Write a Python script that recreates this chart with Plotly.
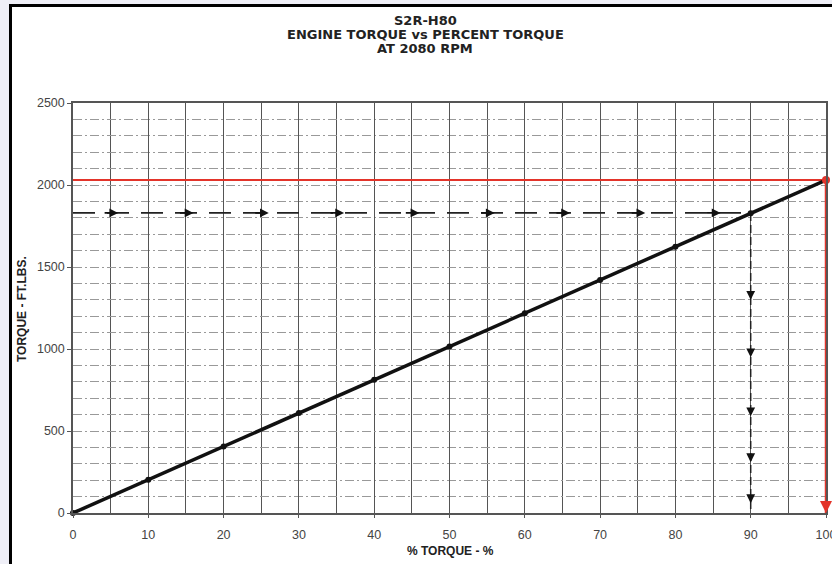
import plotly.graph_objects as go

# ---- data ----
percent = [0, 10, 20, 30, 40, 50, 60, 70, 80, 90, 100]
torque = [0, 203, 406, 609, 812, 1015, 1218, 1421, 1624, 1827, 2030]

max_pct = [0, 100, 100]
max_torque = [2030, 2030, 0]

read_pct = [0, 90, 90]
read_torque = [1830, 1830, 0]

h_arrow_x = [6, 16, 26, 36, 46, 56, 66, 76, 86]
v_arrow_y = [1300, 950, 590, 310, 60]

x_ticks = [0, 10, 20, 30, 40, 50, 60, 70, 80, 90, 100]
y_ticks = [0, 500, 1000, 1500, 2000, 2500]

title_lines = ["S2R-H80", "ENGINE TORQUE vs PERCENT TORQUE", "AT 2080 RPM"]
x_title = "% TORQUE - %"
y_title = "TORQUE - FT.LBS."

FONT = "Liberation Sans, Arial, sans-serif"
TITLE_FONT = "DejaVu Sans, Liberation Sans, sans-serif"
RED = "#e3342a"

fig = go.Figure()

# red max-torque guide lines
fig.add_trace(go.Scatter(x=max_pct[:2], y=max_torque[:2], mode="lines",
                         line=dict(color=RED, width=2), hoverinfo="skip",
                         showlegend=False, cliponaxis=False))
fig.add_trace(go.Scatter(x=max_pct[1:], y=max_torque[1:], mode="lines",
                         line=dict(color=RED, width=2.5), hoverinfo="skip",
                         showlegend=False, cliponaxis=False))

# dashed reading lines
fig.add_trace(go.Scatter(x=read_pct[:2], y=read_torque[:2], mode="lines",
                         line=dict(color="#222", width=1.6, dash="22px,12px"),
                         hoverinfo="skip", showlegend=False))
fig.add_trace(go.Scatter(x=read_pct[1:], y=read_torque[1:], mode="lines",
                         line=dict(color="#222", width=1.5, dash="8px,4px"),
                         hoverinfo="skip", showlegend=False))

# main torque line
fig.add_trace(go.Scatter(x=percent, y=torque, mode="lines+markers",
                         line=dict(color="#111", width=3.5),
                         marker=dict(color="#111", size=6),
                         showlegend=False, cliponaxis=False))

# red end dot
fig.add_trace(go.Scatter(x=[max_pct[1]], y=[max_torque[1]], mode="markers",
                         marker=dict(color=RED, size=8), showlegend=False,
                         cliponaxis=False, hoverinfo="skip"))

ann = []
for xa in h_arrow_x:
    ann.append(dict(x=xa, y=read_torque[0], ax=xa - 2, ay=read_torque[0],
                    xref="x", yref="y", axref="x", ayref="y", text="",
                    showarrow=True, arrowhead=2, arrowsize=1.1, arrowwidth=1.6,
                    arrowcolor="#111"))
for ya in v_arrow_y:
    ann.append(dict(x=read_pct[1], y=ya, ax=read_pct[1], ay=ya + 50,
                    xref="x", yref="y", axref="x", ayref="y", text="",
                    showarrow=True, arrowhead=2, arrowsize=1.1, arrowwidth=1.6,
                    arrowcolor="#111"))
ann.append(dict(x=max_pct[2], y=max_torque[2], ax=max_pct[2], ay=60,
                xref="x", yref="y", axref="x", ayref="y", text="",
                showarrow=True, arrowhead=2, arrowsize=1.2, arrowwidth=2,
                arrowcolor=RED))

# title lines
for i, t in enumerate(title_lines):
    py = 20 + 14 * i
    ann.append(dict(text="<b>%s</b>" % t, x=(425 - 73) / 753, y=(513 - py) / 410,
                    xref="paper", yref="paper", showarrow=False,
                    xanchor="center", yanchor="middle",
                    font=dict(family=TITLE_FONT, size=13, color="#222")))

ann.append(dict(text="<b>%s</b>" % x_title, x=(450 - 73) / 753, y=(513 - 551) / 410,
                xref="paper", yref="paper", showarrow=False,
                xanchor="center", yanchor="middle",
                font=dict(family=FONT, size=12, color="#222")))
ann.append(dict(text="<b>%s</b>" % y_title, x=(22 - 73) / 753, y=(513 - 309) / 410,
                xref="paper", yref="paper", showarrow=False, textangle=-90,
                xanchor="center", yanchor="middle",
                font=dict(family=FONT, size=12, color="#222")))

shapes = [
    # lavender margins outside the scanned frame
    dict(type="rect", xref="paper", yref="paper", x0=-73 / 753, x1=(9 - 73) / 753,
         y0=-51 / 410, y1=513 / 410, fillcolor="#efeff7", line=dict(width=0), layer="below"),
    dict(type="rect", xref="paper", yref="paper", x0=-73 / 753, x1=759 / 753,
         y0=(513 - 4) / 410, y1=513 / 410, fillcolor="#efeff7", line=dict(width=0), layer="below"),
    # black scan frame
    dict(type="line", xref="paper", yref="paper", x0=(10.5 - 73) / 753, x1=(10.5 - 73) / 753,
         y0=-51 / 410, y1=(513 - 4.5) / 410, line=dict(color="#000", width=3)),
    dict(type="line", xref="paper", yref="paper", x0=(9 - 73) / 753, x1=759 / 753,
         y0=(513 - 5.5) / 410, y1=(513 - 5.5) / 410, line=dict(color="#000", width=3)),
]

fig.update_layout(
    width=832, height=564,
    margin=dict(l=73, r=6, t=103, b=51, autoexpand=False),
    paper_bgcolor="white", plot_bgcolor="white",
    annotations=ann, shapes=shapes,
    font=dict(family=FONT, color="#333"),
)

fig.update_xaxes(range=[0, 100], tickvals=x_ticks, ticktext=[str(v) for v in x_ticks],
                 showgrid=True, gridcolor="#555", gridwidth=1.3,
                 minor=dict(dtick=5, showgrid=True, gridcolor="#555", gridwidth=1.3),
                 showline=True, linecolor="#555", linewidth=1.5, mirror=True,
                 ticks="outside", ticklen=3, tickcolor="#555",
                 ticklabelstandoff=6, ticklabeloverflow="allow", automargin=False,
                 tickfont=dict(family=FONT, size=12.5, color="#444"),
                 zeroline=False, fixedrange=True)

fig.update_yaxes(range=[0, 2500], tickvals=y_ticks, ticktext=[str(v) for v in y_ticks],
                 showgrid=True, gridcolor="#999", gridwidth=1, griddash="9px,3px,2px,3px",
                 minor=dict(dtick=100, showgrid=True, gridcolor="#999", gridwidth=1,
                            griddash="9px,3px,2px,3px"),
                 showline=True, linecolor="#555", linewidth=1.5, mirror=True,
                 ticks="outside", ticklen=4, tickcolor="#555", automargin=False,
                 tickfont=dict(family=FONT, size=12.5, color="#444"),
                 zeroline=False, fixedrange=True)

fig.write_html("out.html", config={"displayModeBar": False},
               post_script="document.body.style.margin='0';document.body.style.overflow='hidden';")
